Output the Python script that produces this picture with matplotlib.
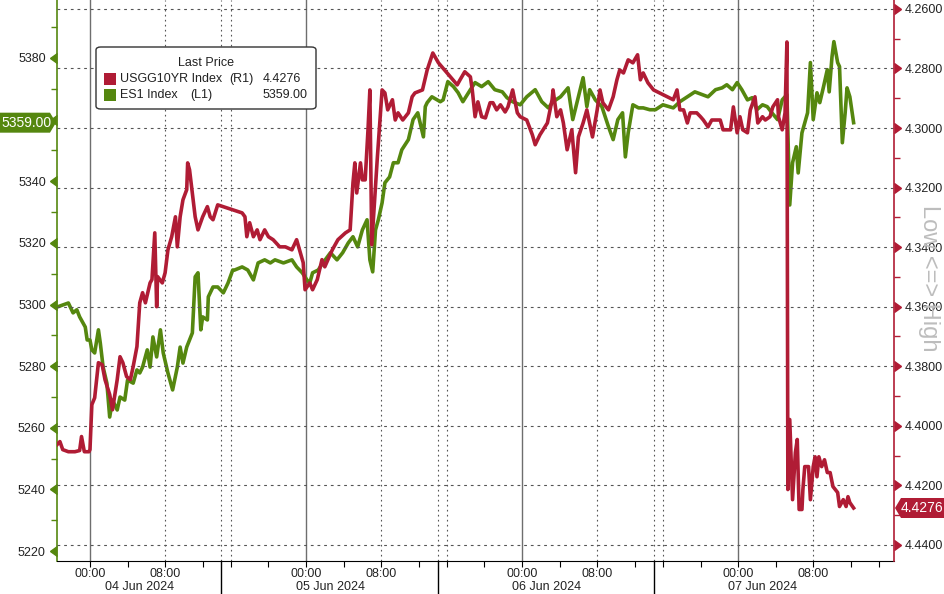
import matplotlib.pyplot as plt
from matplotlib.transforms import blended_transform_factory
from matplotlib.patches import FancyBboxPatch, Rectangle, Polygon

plt.rcParams['font.family'] = ['Liberation Sans', 'DejaVu Sans']

RED = '#b01c35'
GREEN = '#55870f'
W, H = 944, 594

# x = trading hours since 04 Jun 2024 00:00 (the axis drops the daily 1h break -> 23h per day)
usgg_t = [-3.5, -3.2, -2.9, -2.3, -1.6, -1.1, -0.9, -0.6, -0.1,
          0.0, 0.2, 0.5, 0.9, 1.3, 1.6, 2.1, 2.4, 2.9, 3.2, 3.5, 3.9, 4.3, 4.6, 5.0, 5.3, 5.6, 5.9,
          6.4, 6.6, 6.9, 7.1, 7.2, 7.7, 8.0, 8.3, 8.7, 9.1, 9.3, 9.6, 9.9, 10.3, 10.4, 10.6, 10.9,
          11.2, 11.5, 12.0, 12.5, 12.8, 13.1, 13.6,
          16.2, 16.5, 16.7, 17.0, 17.4, 17.8, 18.1, 18.6, 19.0, 19.5, 20.2, 20.8, 21.5, 22.0, 22.4,
          22.7, 22.9, 23.4, 23.7, 24.2, 24.7, 25.0, 25.8, 26.4, 27.2, 27.7, 28.0, 28.2, 28.4, 28.8,
          29.0, 29.3, 29.6, 29.8, 30.0, 30.6, 31.1, 31.4, 31.7, 32.2, 32.5, 32.8, 33.3, 33.9, 34.3,
          34.6, 35.4, 35.9, 36.5, 37.1,
          39.1, 39.4, 39.9, 40.5, 40.7, 41.0, 41.3, 41.7, 42.1, 42.6, 42.9, 43.3, 43.7, 44.2, 44.5,
          45.0, 45.5, 45.8, 46.5, 47.1, 47.4, 47.9, 48.7, 49.2, 49.3, 49.7, 50.1, 50.4, 50.8, 51.3,
          51.7, 52.0, 52.5, 52.9, 53.5, 54.0, 54.3, 54.6, 55.2, 55.7, 56.1, 56.4, 56.8, 57.3, 57.8,
          58.3, 58.6, 58.9, 59.4, 60.0,
          62.1, 62.5, 62.8, 63.2, 63.6, 63.9, 64.6, 65.0, 65.3, 65.8, 66.2, 67.1, 67.4, 68.2, 68.5,
          68.9, 69.2, 69.5, 70.0, 70.3, 70.8, 71.1, 71.6, 71.9, 72.4, 72.7, 73.2, 73.3, 73.7, 74.0,
          74.2, 74.3, 74.5, 74.8, 75.1, 75.3, 75.5, 75.8, 75.9, 76.1, 76.5, 76.7, 77.0, 77.2, 77.4,
          77.6, 77.9, 78.2, 78.5, 78.8, 79.1, 79.6, 79.8, 80.2, 80.5, 80.7, 80.9, 81.3]
usgg_v = [4.4063, 4.4053, 4.4080, 4.4087, 4.4087, 4.4083, 4.4036, 4.4087, 4.4087,
          4.4080, 4.3929, 4.3906, 4.3788, 4.3795, 4.3845, 4.3895, 4.3946, 4.3845, 4.3768, 4.3788,
          4.3835, 4.3845, 4.3801, 4.3734, 4.3587, 4.3553, 4.3587,
          4.3520, 4.3509, 4.3352, 4.3600, 4.3499, 4.3520, 4.3486, 4.3409, 4.3365, 4.3298, 4.3399,
          4.3298, 4.3241, 4.3207, 4.3117, 4.3140, 4.3218, 4.3298, 4.3342, 4.3298, 4.3264, 4.3298,
          4.3308, 4.3258,
          4.3285, 4.3298, 4.3365, 4.3318, 4.3365, 4.3342, 4.3375, 4.3342, 4.3365, 4.3375, 4.3399,
          4.3399, 4.3409, 4.3375, 4.3419, 4.3452, 4.3543, 4.3520, 4.3543, 4.3509, 4.3442, 4.3466,
          4.3409, 4.3375, 4.3352, 4.3342, 4.3184, 4.3117, 4.3218, 4.3117, 4.3174, 4.3174, 4.3006,
          4.2872, 4.3392, 4.3097, 4.2872, 4.2882, 4.2939, 4.2905, 4.2973, 4.2949, 4.2973, 4.2949,
          4.2895, 4.2882, 4.2872, 4.2805, 4.2748, 4.2781,
          4.2855, 4.2838, 4.2811, 4.2828, 4.2872, 4.2962, 4.2912, 4.2962, 4.2966, 4.2915, 4.2915,
          4.2939, 4.2922, 4.2946, 4.2929, 4.2872, 4.2949, 4.2962, 4.2973, 4.3023, 4.3056, 4.3023,
          4.2983, 4.2905, 4.2872, 4.2962, 4.2939, 4.2983, 4.3073, 4.3006, 4.3150, 4.3030, 4.2983,
          4.2939, 4.3030, 4.2939, 4.2872, 4.2915, 4.2939, 4.2895, 4.2838, 4.2805, 4.2815, 4.2771,
          4.2781, 4.2754, 4.2838, 4.2815, 4.2848, 4.2872,
          4.2905, 4.2872, 4.2939, 4.2939, 4.2983, 4.2949, 4.2949, 4.2962, 4.2973, 4.2996, 4.2973,
          4.2973, 4.3006, 4.3006, 4.2929, 4.3016, 4.2962, 4.3006, 4.3016, 4.2939, 4.2895, 4.2983,
          4.2962, 4.2973, 4.2962, 4.2929, 4.2905, 4.2962, 4.3006, 4.2949,
          4.2711, 4.4214, 4.3979, 4.4248, 4.4090, 4.4046, 4.4281, 4.4281, 4.4214, 4.4137, 4.4137,
          4.4248, 4.4137, 4.4104, 4.4171, 4.4104, 4.4137, 4.4114, 4.4157, 4.4157, 4.4204, 4.4224,
          4.4271, 4.4248, 4.4271, 4.4238, 4.4258, 4.4276]

es_t = [-3.5, -2.3, -1.8, -1.4, -1.1, -0.5, -0.3, 0.0, 0.2, 0.5, 0.9, 1.1, 1.4, 1.8, 2.1, 2.4,
        2.9, 3.2, 3.7, 4.0, 4.6, 5.0, 5.3, 5.6, 6.1, 6.4, 6.7, 7.1, 7.5, 7.8, 8.3, 8.8, 9.3, 9.6,
        9.9, 10.3, 10.9, 11.2, 11.5, 11.8, 12.0, 12.5, 12.6, 13.1, 13.6, 14.2, 14.7, 15.2, 15.4,
        16.2, 16.8, 17.4, 17.9, 18.6, 19.2, 19.7, 20.6, 21.5, 22.0, 22.6, 23.1, 23.4, 23.7, 24.3,
        24.8, 25.6, 26.3, 26.9, 27.5, 28.0, 28.5, 29.0, 29.5, 29.8, 30.1, 30.4, 30.7, 31.1, 31.4,
        31.9, 32.3, 32.8, 33.2, 33.9, 34.4, 34.9, 35.5, 35.7, 35.9, 36.4, 37.3, 37.6, 38.1, 38.7,
        39.2, 39.7, 40.5, 41.0, 41.7, 42.4, 43.1, 43.9, 44.4, 45.0, 45.8, 46.5, 47.4, 48.1, 48.8,
        49.3, 50.1, 50.9, 51.4, 52.0, 52.5, 52.9, 53.2, 53.8, 54.5, 55.2, 55.7, 56.2, 56.7, 57.0,
        57.3, 57.8, 58.4, 58.9, 59.6, 60.2, 61.0, 62.1, 62.8, 63.6, 64.4, 65.2, 65.8, 66.6, 67.3,
        67.8, 68.4, 68.9, 69.4, 70.0, 70.5, 71.0, 71.6, 72.1, 72.6, 73.2, 73.7, 74.2, 74.5, 74.8,
        75.2, 75.4, 75.8, 76.1, 76.4, 76.7, 77.0, 77.4, 77.7, 78.1, 78.5, 78.7, 79.0, 79.2, 79.6,
        79.8, 80.1, 80.4, 80.6, 80.9, 81.3]
es_v = [5299.2, 5300.5, 5297.3, 5298.3, 5296.0, 5292.7, 5288.5, 5288.5, 5285.3, 5284.3, 5291.8,
        5287.5, 5279.7, 5274.5, 5263.5, 5269.0, 5265.8, 5270.0, 5269.0, 5275.5, 5274.5, 5278.8,
        5277.8, 5279.7, 5285.3, 5279.7, 5289.5, 5283.0, 5291.8, 5284.3, 5277.8, 5272.3, 5279.7,
        5286.2, 5281.0, 5286.2, 5290.8, 5309.0, 5310.3, 5291.8, 5296.0, 5295.0, 5302.5, 5305.7,
        5305.7, 5303.8, 5307.0, 5311.2, 5311.2, 5312.2, 5311.2, 5308.0, 5313.5, 5314.5, 5313.5,
        5314.5, 5313.5, 5314.5, 5312.2, 5310.3, 5308.0, 5307.0, 5310.3, 5311.2, 5313.5, 5316.8,
        5314.5, 5316.8, 5320.0, 5322.0, 5318.7, 5324.2, 5327.5, 5314.5, 5310.6, 5324.2, 5327.5,
        5333.0, 5339.5, 5341.4, 5346.0, 5346.0, 5350.2, 5353.5, 5360.0, 5362.2, 5354.4, 5364.2,
        5365.5, 5367.4, 5365.8, 5366.4, 5372.3, 5370.7, 5368.7, 5365.8, 5369.7, 5372.0, 5370.7,
        5372.3, 5369.7, 5369.0, 5367.1, 5365.8, 5364.8, 5367.4, 5369.7, 5365.8, 5363.8, 5365.8,
        5367.4, 5370.3, 5360.0, 5367.4, 5373.6, 5364.2, 5369.7, 5366.4, 5364.2, 5357.7, 5353.5,
        5360.0, 5362.2, 5347.9, 5355.7, 5364.8, 5363.8, 5363.8, 5363.2, 5363.2, 5364.8, 5363.8,
        5365.8, 5367.4, 5369.0, 5368.1, 5367.4, 5369.7, 5370.3, 5371.3, 5369.7, 5372.0, 5369.7,
        5366.4, 5367.1, 5363.2, 5364.8, 5364.2, 5362.2, 5360.0, 5366.4, 5368.1, 5332.3, 5346.0,
        5351.2, 5342.7, 5355.7, 5359.0, 5362.2, 5378.5, 5360.0, 5368.7, 5365.5, 5370.7, 5376.2,
        5369.0, 5380.4, 5385.3, 5378.5, 5377.2, 5352.5, 5362.2, 5370.3, 5367.4, 5359.0]

es_ticks = [5220, 5240, 5260, 5280, 5300, 5320, 5340, 5360, 5380]
es_labels = ['5220', '5240', '5260', '5280', '5300', '5320', '5340', '', '5380']
usgg_ticks = [4.26, 4.28, 4.30, 4.32, 4.34, 4.36, 4.38, 4.40, 4.42, 4.44]
hour_ticks = [0, 8, 23, 31, 46, 54, 69, 77]
hour_labels = ['00:00', '08:00'] * 4
four_hour_ticks = [d + o for d in [0, 23, 46, 69] for o in [0, 4, 8, 12, 15, 19]]
day_starts = [0, 23, 46, 69]
session_breaks = [14, 37, 60]
day_labels = ['04 Jun 2024', '05 Jun 2024', '06 Jun 2024', '07 Jun 2024']
day_label_pos = [5.3, 25.6, 48.6, 71.6]
x_range = (-3.51, 85.6)

fig = plt.figure(figsize=(W / 100, H / 100), dpi=100)
ax = fig.add_axes([57 / W, 33 / H, 837 / W, 561 / H])
ax2 = ax.twinx()

# grid
for y in usgg_ticks:
    ax2.axhline(y, color='#555555', lw=0.8, ls=(0, (2.5, 3.5)), zorder=0)
for d in day_starts:
    ax.axvline(d, color='#6e6e6e', lw=1.0, zorder=0)
for d in day_starts:
    ax.axvline(d + 8, color='#555555', lw=0.8, ls=(0, (1.5, 3)), zorder=0)
for s in session_breaks:
    ax.axvline(s, color='#555555', lw=0.8, ls=(0, (1.5, 3)), zorder=0)
    ax.axvline(s + 1, color='#555555', lw=0.8, ls=(0, (1.5, 3)), zorder=0)

ax.plot(es_t, es_v, color=GREEN, lw=2.6, solid_joinstyle='round', zorder=3)
ax2.plot(usgg_t, usgg_v, color=RED, lw=2.6, solid_joinstyle='round', zorder=3)

# spines
ax.spines['top'].set_visible(False)
ax.spines['right'].set_visible(False)
ax.spines['left'].set_color(GREEN)
ax.spines['left'].set_linewidth(1.2)
ax.spines['bottom'].set_color('black')
for s in ['top', 'left', 'bottom']:
    ax2.spines[s].set_visible(False)
ax2.spines['right'].set_color(RED)
ax2.spines['right'].set_linewidth(1.2)

# left axis
ax.set_yticks(es_ticks, es_labels)
ax.set_yticks([v + 10 for v in es_ticks[:-1]] + [5390], minor=True)
ax.tick_params(axis='y', which='major', length=0, pad=8, labelsize=9, labelcolor='#222222')
ax.tick_params(axis='y', which='minor', length=4, width=1, color=GREEN)

# right axis
ax2.set_yticks(usgg_ticks, ['%.4f' % v for v in usgg_ticks])
ax2.set_yticks([v + 0.01 for v in usgg_ticks[:-1]], minor=True)
ax2.tick_params(axis='y', which='major', length=0, pad=8, labelsize=9, labelcolor='#222222')
ax2.tick_params(axis='y', which='minor', length=4, width=1, color=RED)

# bottom axis
ax.set_xticks(hour_ticks, hour_labels)
ax.set_xticks([t for t in four_hour_ticks if x_range[0] <= t <= x_range[1]], minor=True)
ax.tick_params(axis='x', which='both', length=4, width=0.8, color='black', pad=1,
               labelsize=9, labelcolor='#222222')

# limits last, so the tick setters cannot widen them
ax.set_xlim(*x_range)
ax.set_ylim(5216.8, 5398.8)
ax2.set_ylim(4.4454, 4.257)

tl = blended_transform_factory(ax.transAxes, ax.transData)
ax.plot([0] * len(es_ticks), es_ticks, ls='none', marker=8, ms=7, color=GREEN,
        transform=tl, clip_on=False, zorder=5)
tr = blended_transform_factory(ax2.transAxes, ax2.transData)
ax2.plot([1] * len(usgg_ticks), usgg_ticks, ls='none', marker=9, ms=7, color=RED,
         transform=tr, clip_on=False, zorder=5)

tb = blended_transform_factory(ax.transData, ax.transAxes)
for s in session_breaks:
    ax.plot([s, s], [0, -0.07], color='black', lw=1, transform=tb, clip_on=False)
for p, lab in zip(day_label_pos, day_labels):
    ax.text(p, -0.047, lab, transform=tb, ha='center', va='center', fontsize=9, color='#222222')

# Low <=> High
fig.text(929 / W, 1 - 278 / H, 'Low <=> High', rotation=-90, ha='center', va='center',
         fontsize=17, color='#bdbdbd')

# last-value tags, anchored at the last values on each axis (offsets in pixels)
lx, ly = tl.transform((0, es_v[-1]))
fig.add_artist(Polygon([(lx + dx, ly + dy) for dx, dy in
                        [(-57, -10), (-7, -10), (-1, 0), (-7, 10), (-57, 10)]],
                       closed=True, fc=GREEN, ec='none', transform=None, zorder=6))
fig.text((lx - 31) / W, ly / H, '%.2f' % es_v[-1], ha='center', va='center',
         fontsize=10, color='white', zorder=7)
rx, ry = tr.transform((1, usgg_v[-1]))
fig.add_artist(Polygon([(rx + dx, ry + dy) for dx, dy in
                        [(1, 0), (7, 10), (52, 10), (52, -10), (7, -10)]],
                       closed=True, fc=RED, ec='none', transform=None, zorder=6))
fig.text((rx + 28) / W, ry / H, '%.4f' % usgg_v[-1], ha='center', va='center',
         fontsize=10, color='white', zorder=7)

# legend box
def fx(px):
    return px / W

def fy(py):
    return 1 - py / H

box = FancyBboxPatch((fx(96), fy(109)), 220 / W, 62 / H, boxstyle='round,pad=0,rounding_size=0.005',
                     transform=fig.transFigure, fc='white', ec='#333333', lw=1, zorder=10)
fig.add_artist(box)
fig.text(fx(206), fy(63), 'Last Price', ha='center', va='center', fontsize=9, color='#222222', zorder=11)
fig.add_artist(Rectangle((fx(104), fy(85)), 12 / W, 12 / H, transform=fig.transFigure,
                         fc=RED, ec='none', zorder=11))
fig.add_artist(Rectangle((fx(104), fy(101)), 12 / W, 12 / H, transform=fig.transFigure,
                         fc=GREEN, ec='none', zorder=11))
fig.text(fx(120), fy(79), 'USGG10YR Index', va='center', fontsize=9, color='#222222', zorder=11)
fig.text(fx(229), fy(79), '(R1)', va='center', fontsize=9, color='#222222', zorder=11)
fig.text(fx(263), fy(79), '%.4f' % usgg_v[-1], va='center', fontsize=9, color='#222222', zorder=11)
fig.text(fx(120), fy(95), 'ES1 Index', va='center', fontsize=9, color='#222222', zorder=11)
fig.text(fx(190), fy(95), '(L1)', va='center', fontsize=9, color='#222222', zorder=11)
fig.text(fx(308), fy(95), '%.2f' % es_v[-1], va='center', ha='right', fontsize=9,
         color='#222222', zorder=11)

fig.savefig('out.png', dpi=100)
